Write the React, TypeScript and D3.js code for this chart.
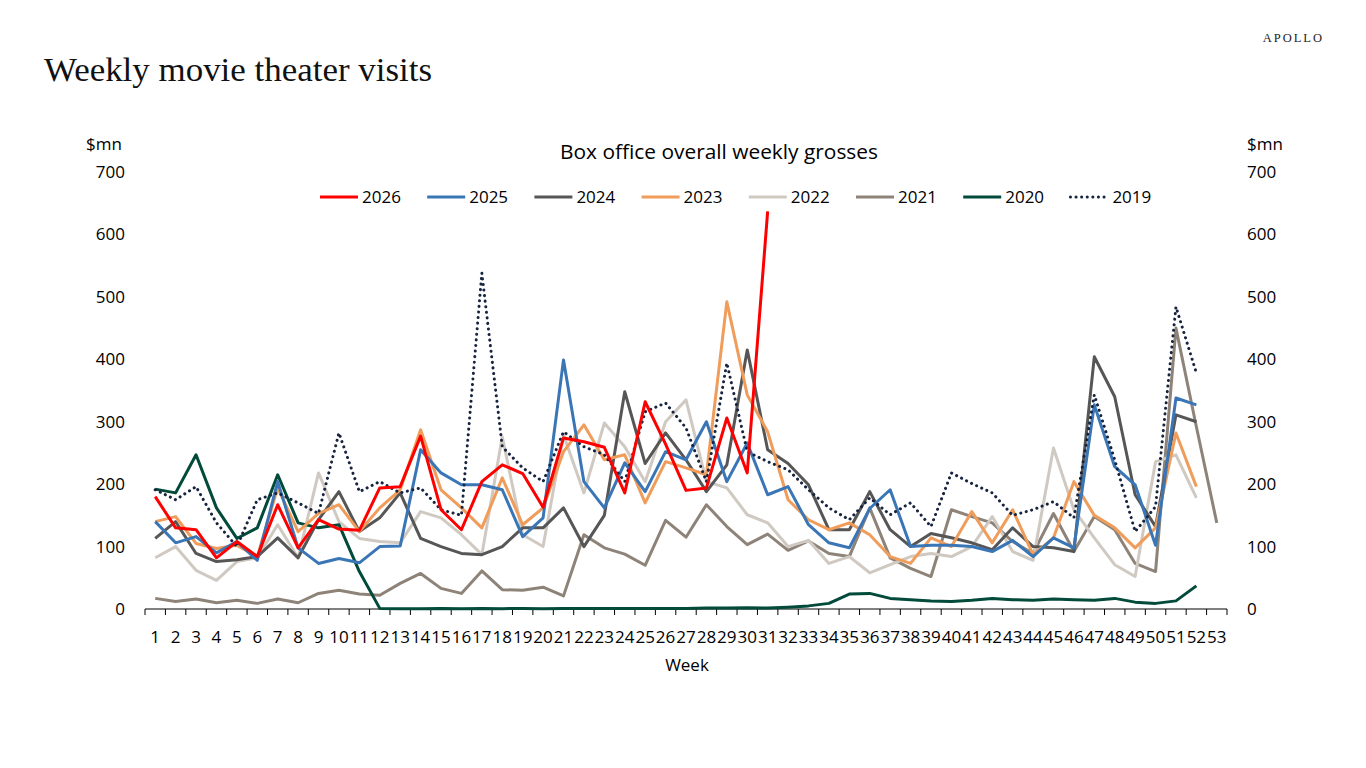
import React, { useEffect } from "react";
import * as d3 from "d3";

// weekly box office grosses, $mn
const weeks = d3.range(1, 54);

const y2026 = [180, 130, 127, 82, 108, 84, 167, 98, 143, 128, 126, 194, 196, 277, 159, 127, 204, 231, 217, 163, 274, 268, 259, 186, 332, 264, 190, 194, 306, 218, 637];
const y2025 = [140, 106, 116, 90, 108, 78, 204, 98, 73, 81, 74, 100, 101, 255, 218, 199, 199, 191, 116, 146, 399, 204, 162, 234, 188, 252, 239, 300, 204, 266, 183, 196, 135, 106, 98, 161, 191, 100, 102, 102, 100, 92, 110, 84, 114, 98, 327, 228, 199, 102, 338, 327];
const y2024 = [113, 140, 89, 76, 79, 84, 114, 82, 143, 188, 124, 146, 186, 113, 100, 89, 87, 100, 130, 130, 162, 100, 150, 348, 233, 282, 239, 188, 231, 415, 255, 233, 199, 127, 127, 188, 127, 100, 121, 114, 106, 95, 130, 100, 98, 92, 404, 340, 183, 132, 311, 300];
const y2023 = [140, 148, 105, 97, 102, 84, 194, 124, 153, 167, 124, 162, 191, 287, 191, 162, 130, 210, 135, 162, 252, 295, 239, 247, 170, 236, 226, 215, 492, 343, 284, 175, 143, 127, 138, 119, 84, 73, 114, 100, 156, 106, 159, 87, 114, 204, 150, 130, 98, 130, 282, 196];
const y2022 = [82, 100, 62, 46, 76, 82, 135, 82, 218, 140, 113, 108, 106, 156, 146, 119, 87, 276, 119, 100, 279, 186, 298, 260, 204, 300, 335, 204, 194, 151, 138, 100, 110, 73, 84, 58, 71, 84, 89, 84, 100, 148, 92, 78, 258, 159, 114, 71, 52, 236, 247, 178];
const y2021 = [17, 12, 16, 10, 14, 9, 16, 10, 25, 30, 24, 22, 41, 57, 33, 25, 61, 31, 30, 35, 21, 119, 98, 88, 70, 142, 115, 167, 132, 103, 120, 94, 109, 89, 84, 162, 82, 65, 52, 159, 148, 138, 108, 89, 153, 92, 148, 127, 73, 60, 450, 292, 138];
const y2020 = [192, 186, 247, 162, 113, 130, 215, 138, 130, 135, 60, 1, 0.5, 0.5, 1, 0.5, 1, 0.5, 1, 0.5, 1, 1, 1, 1, 1, 1, 1, 1.5, 1.5, 2, 1.5, 3, 5, 9, 24, 25, 17, 15, 13, 12, 14, 17, 15, 14, 16, 15, 14, 17, 11, 9, 13, 37];
const y2019 = [191, 175, 196, 138, 100, 175, 186, 170, 153, 282, 188, 204, 186, 194, 159, 150, 538, 260, 226, 204, 284, 260, 247, 204, 316, 330, 290, 204, 394, 252, 236, 223, 191, 162, 143, 178, 151, 170, 132, 218, 201, 186, 150, 159, 172, 146, 343, 239, 124, 164, 484, 378];

const yTicks = [0, 100, 200, 300, 400, 500, 600, 700];

const series = [
  { name: "2026", values: y2026, color: "#ff0000", dotted: false },
  { name: "2025", values: y2025, color: "#3a76b6", dotted: false },
  { name: "2024", values: y2024, color: "#565656", dotted: false },
  { name: "2023", values: y2023, color: "#f09c5a", dotted: false },
  { name: "2022", values: y2022, color: "#d0c9c2", dotted: false },
  { name: "2021", values: y2021, color: "#8e8378", dotted: false },
  { name: "2020", values: y2020, color: "#024a3a", dotted: false },
  { name: "2019", values: y2019, color: "#17243f", dotted: true },
];

// draw order: light ones under, 2026 on top
const drawOrder = ["2021", "2022", "2020", "2024", "2023", "2025", "2019", "2026"];

const W = 1366;
const H = 768;
const font = "'Open Sans', 'Noto Sans', sans-serif";

export default function App() {
  useEffect(() => {
    document.body.style.margin = "0";
  }, []);

  const x = d3.scaleBand<number>().domain(weeks).range([145, 1227]);
  const y = d3.scaleLinear().domain([0, 700]).range([609, 172]);
  const cx = (w: number) => (x(w) as number) + x.bandwidth() / 2;

  const line = d3
    .line<number>()
    .x((_, i) => cx(weeks[i]))
    .y((d) => y(d));

  const tickXs = weeks.map((w) => x(w) as number).concat([x.range()[1]]);
  const byName = new Map(series.map((s) => [s.name, s]));

  return (
    <svg width={W} height={H} style={{ display: "block", background: "#fff" }}>
      <text x={44} y={81} fontFamily="'Liberation Serif', serif" fontSize={34} fill="#111" textLength={388} lengthAdjust="spacingAndGlyphs">
        Weekly movie theater visits
      </text>
      <text x={1324} y={42} textAnchor="end" fontFamily="'Liberation Serif', serif" fontSize={12.5} letterSpacing={2} fill="#222">
        APOLLO
      </text>

      <text x={719} y={159} textAnchor="middle" fontFamily={font} fontSize={20} fill="#000" textLength={318} lengthAdjust="spacingAndGlyphs">
        Box office overall weekly grosses
      </text>
      <text x={86} y={150} fontFamily={font} fontSize={17} fill="#000">$mn</text>
      <text x={1247} y={150} fontFamily={font} fontSize={17} fill="#000">$mn</text>

      {yTicks.map((t) => (
        <g key={t} fontFamily={font} fontSize={17} fill="#000">
          <text x={125} y={y(t) + 6} textAnchor="end">{t}</text>
          <text x={1247} y={y(t) + 6}>{t}</text>
        </g>
      ))}

      {/* x axis */}
      <line x1={145} x2={1227} y1={609} y2={609} stroke="#000" strokeWidth={1} />
      {tickXs.map((tx, i) => (
        <line key={i} x1={tx} x2={tx} y1={609} y2={615} stroke="#000" strokeWidth={1} />
      ))}
      {weeks.map((w) => (
        <text key={w} x={cx(w)} y={643} textAnchor="middle" fontFamily={font} fontSize={17} fill="#000">
          {w}
        </text>
      ))}
      <text x={687} y={671} textAnchor="middle" fontFamily={font} fontSize={17} fill="#000">Week</text>

      {drawOrder.map((n) => {
        const s = byName.get(n)!;
        return (
          <path
            key={n}
            d={line(s.values) || ""}
            fill="none"
            stroke={s.color}
            strokeWidth={3}
            strokeLinejoin="round"
            strokeLinecap={s.dotted ? "round" : "butt"}
            strokeDasharray={s.dotted ? "0.1 5.5" : undefined}
          />
        );
      })}

      {/* legend */}
      {series.map((s, i) => {
        const lx = 320 + i * 107.2;
        return (
          <g key={s.name}>
            <line
              x1={lx}
              x2={lx + 38}
              y1={197}
              y2={197}
              stroke={s.color}
              strokeWidth={3}
              strokeLinecap={s.dotted ? "round" : "butt"}
              strokeDasharray={s.dotted ? "0.1 5.5" : undefined}
            />
            <text x={lx + 42} y={203} fontFamily={font} fontSize={17} fill="#000">
              {s.name}
            </text>
          </g>
        );
      })}
    </svg>
  );
}
